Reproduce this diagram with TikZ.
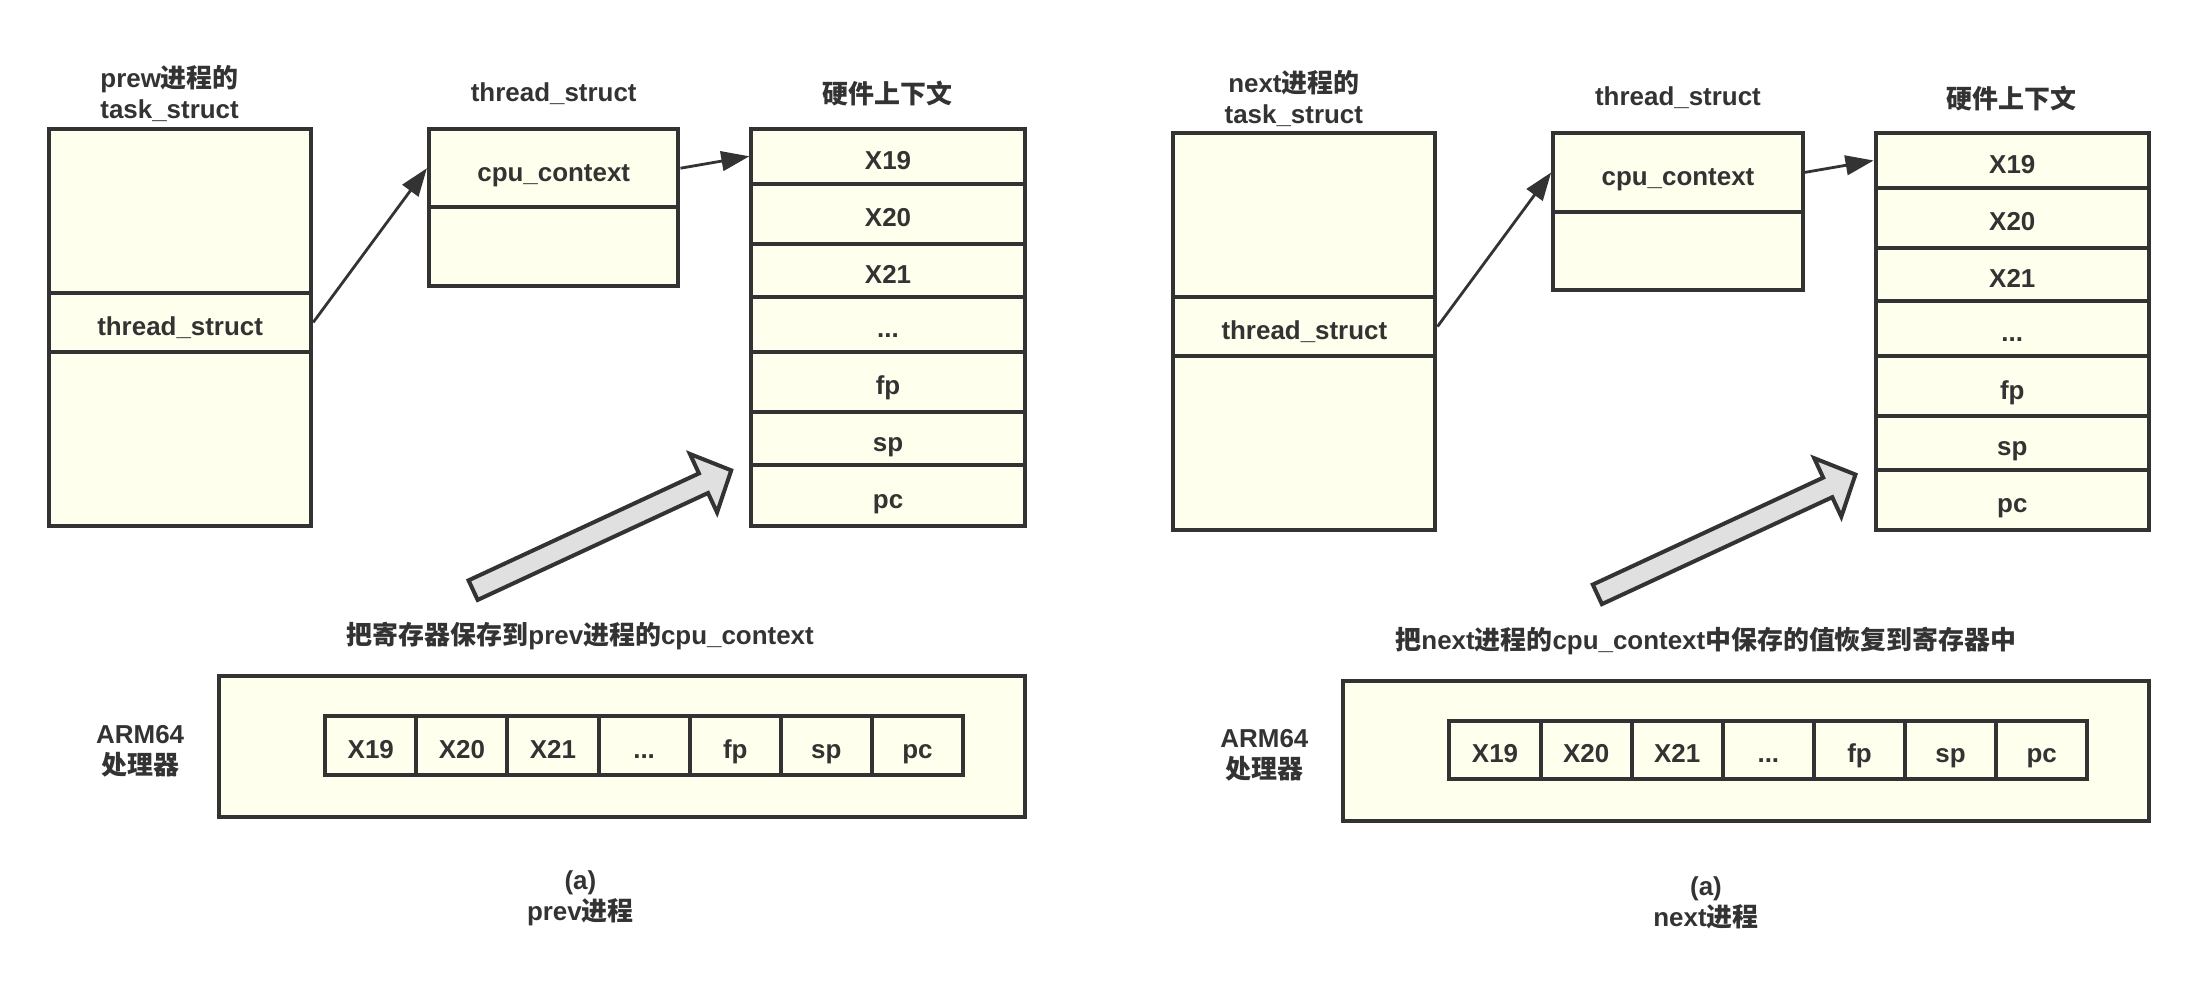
\documentclass[tikz,border=0pt]{standalone}
\usepackage{fontspec}
\setmainfont{Liberation Sans}
\newfontfamily\cjk{Noto Sans CJK SC}
\usetikzlibrary{arrows.meta}
\definecolor{ink}{HTML}{333333}
\definecolor{cream}{HTML}{FFFFEE}
\definecolor{shade}{HTML}{E0E0E0}

\begin{document}
\begin{tikzpicture}[x=0.5pt, y=-0.5pt,
  every node/.style={text=ink, font=\fontsize{9.25}{11}\selectfont\bfseries},
  box/.style={draw=ink, fill=cream, line width=1.43pt, inner sep=0pt, text height=9.2pt, text depth=0pt},
  link/.style={draw=ink, line width=1pt, -{Triangle[length=10pt,width=7pt]}},
  bigarrow/.style={draw=ink, fill=shade, line width=1.43pt, line join=miter}]

\useasboundingbox (0,0) rectangle (1568,704.8);

% prev: task_struct
\node[align=center] (prevName) at (121,67) {prew{\cjk 进程的}\\task\_struct};
\node[box, minimum width=93.5pt, minimum height=58.5pt] (prevTop) at (128.5,150.5) {};
\node[box, minimum width=93.5pt, minimum height=21pt] (prevTs) at (128.5,230) {thread\_struct};
\node[box, minimum width=93.5pt, minimum height=62pt] (prevBot) at (128.5,313) {};

% prev: thread_struct
\node (prevThrName) at (395,67) {thread\_struct};
\node[box, minimum width=89pt, minimum height=28pt] (prevCtx) at (395,120) {cpu\_context};
\node[box, minimum width=89pt, minimum height=28pt] (prevPad) at (395,176) {};

% prev: hardware context
\node (prevHwName) at (633,67) {\cjk 硬件上下文};
\node[box, minimum width=97.5pt, minimum height=19.5pt] (prevX19) at (633.5,111.5) {X19};
\node[box, minimum width=97.5pt, minimum height=21.5pt] (prevX20) at (633.5,152.5) {X20};
\node[box, minimum width=97.5pt, minimum height=19pt] (prevX21) at (633.5,193) {X21};
\node[box, minimum width=97.5pt, minimum height=19.5pt] (prevDots) at (633.5,231.5) {...};
\node[box, minimum width=97.5pt, minimum height=21.5pt] (prevFp) at (633.5,272.5) {fp};
\node[box, minimum width=97.5pt, minimum height=19pt] (prevSp) at (633.5,313) {sp};
\node[box, minimum width=97.5pt, minimum height=21.5pt] (prevPc) at (633.5,353.5) {pc};

\draw[link] (prevTs.east) -- (prevCtx.west);
\draw[link] (prevCtx.east) -- (prevX19.west);

% prev: registers saved
\begin{scope}[shift={(337.5,421)}, rotate=24.9]
\draw[bigarrow] (0,-7.7) -- (181.2,-7.7) -- (181.2,-23) -- (203,0) -- (181.2,23) -- (181.2,7.7) -- (0,7.7) -- cycle;
\end{scope}
\node (prevNote) at (414,454) {{\cjk 把寄存器保存到}prev{\cjk 进程的}cpu\_context};

\node[align=center] (prevCpu) at (100,536) {ARM64\\{\cjk 处理器}};
\node[box, minimum width=287.5pt, minimum height=50pt] (prevArm) at (443.5,532.5) {};
\node[box, minimum width=32.5pt, minimum height=21pt] (prevR1) at (264.5,532) {X19};
\node[box, minimum width=32.5pt, minimum height=21pt] (prevR2) at (329.5,532) {X20};
\node[box, minimum width=32.5pt, minimum height=21pt] (prevR3) at (394.5,532) {X21};
\node[box, minimum width=32.5pt, minimum height=21pt] (prevR4) at (459.5,532) {...};
\node[box, minimum width=32.5pt, minimum height=21pt] (prevR5) at (524.5,532) {fp};
\node[box, minimum width=32.5pt, minimum height=21pt] (prevR6) at (589.5,532) {sp};
\node[box, minimum width=32.5pt, minimum height=21pt] (prevR7) at (654.5,532) {pc};

\node[align=center] (prevSub) at (414,641) {(a)\\prev{\cjk 进程}};

% next: task_struct
\node[align=center] (nextName) at (923,70) {next{\cjk 进程的}\\task\_struct};
\node[box, minimum width=93.5pt, minimum height=58.5pt] (nextTop) at (930.5,153.5) {};
\node[box, minimum width=93.5pt, minimum height=21pt] (nextTs) at (930.5,233) {thread\_struct};
\node[box, minimum width=93.5pt, minimum height=62pt] (nextBot) at (930.5,316) {};

% next: thread_struct
\node (nextThrName) at (1197,70) {thread\_struct};
\node[box, minimum width=89pt, minimum height=28pt] (nextCtx) at (1197,123) {cpu\_context};
\node[box, minimum width=89pt, minimum height=28pt] (nextPad) at (1197,179) {};

% next: hardware context
\node (nextHwName) at (1435,70) {\cjk 硬件上下文};
\node[box, minimum width=97.5pt, minimum height=19.5pt] (nextX19) at (1435.5,114.5) {X19};
\node[box, minimum width=97.5pt, minimum height=21.5pt] (nextX20) at (1435.5,155.5) {X20};
\node[box, minimum width=97.5pt, minimum height=19pt] (nextX21) at (1435.5,196) {X21};
\node[box, minimum width=97.5pt, minimum height=19.5pt] (nextDots) at (1435.5,234.5) {...};
\node[box, minimum width=97.5pt, minimum height=21.5pt] (nextFp) at (1435.5,275.5) {fp};
\node[box, minimum width=97.5pt, minimum height=19pt] (nextSp) at (1435.5,316) {sp};
\node[box, minimum width=97.5pt, minimum height=21.5pt] (nextPc) at (1435.5,356.5) {pc};

\draw[link] (nextTs.east) -- (nextCtx.west);
\draw[link] (nextCtx.east) -- (nextX19.west);

% next: registers restored
\begin{scope}[shift={(1139.5,424)}, rotate=24.9]
\draw[bigarrow] (0,-7.7) -- (181.2,-7.7) -- (181.2,-23) -- (203,0) -- (181.2,23) -- (181.2,7.7) -- (0,7.7) -- cycle;
\end{scope}
\node (nextNote) at (1217,457) {{\cjk 把}next{\cjk 进程的}cpu\_context{\cjk 中保存的值恢复到寄存器中}};

\node[align=center] (nextCpu) at (902,539) {ARM64\\{\cjk 处理器}};
\node[box, minimum width=287.5pt, minimum height=50pt] (nextArm) at (1245.5,535.5) {};
\node[box, minimum width=32.5pt, minimum height=21pt] (nextR1) at (1066.5,535) {X19};
\node[box, minimum width=32.5pt, minimum height=21pt] (nextR2) at (1131.5,535) {X20};
\node[box, minimum width=32.5pt, minimum height=21pt] (nextR3) at (1196.5,535) {X21};
\node[box, minimum width=32.5pt, minimum height=21pt] (nextR4) at (1261.5,535) {...};
\node[box, minimum width=32.5pt, minimum height=21pt] (nextR5) at (1326.5,535) {fp};
\node[box, minimum width=32.5pt, minimum height=21pt] (nextR6) at (1391.5,535) {sp};
\node[box, minimum width=32.5pt, minimum height=21pt] (nextR7) at (1456.5,535) {pc};

\node[align=center] (nextSub) at (1217,644) {(a)\\next{\cjk 进程}};

\end{tikzpicture}
\end{document}
